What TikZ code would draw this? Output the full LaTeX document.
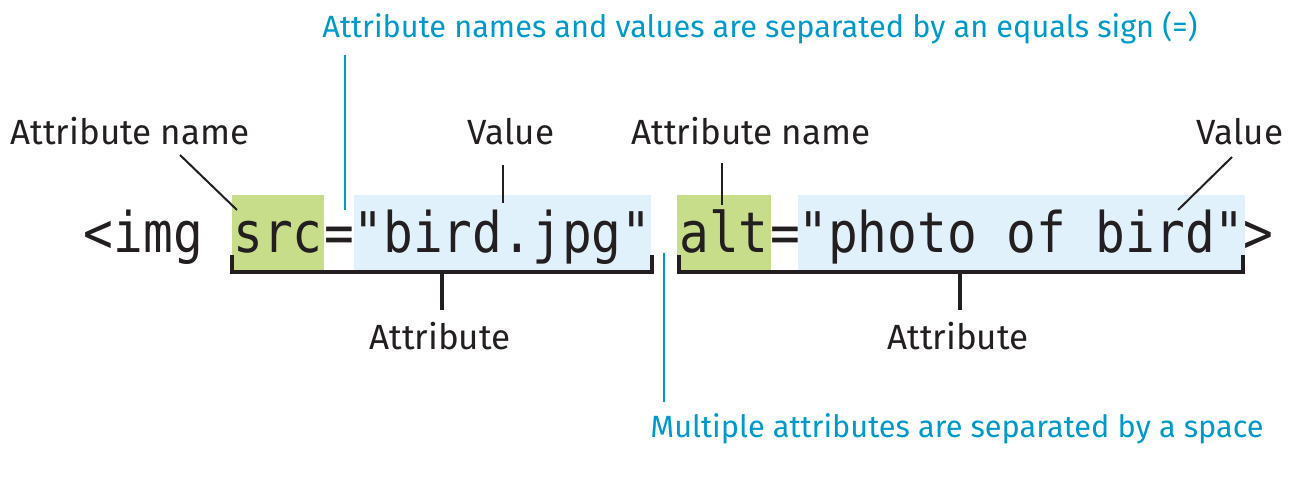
\documentclass[tikz,border=0pt]{standalone}
\usepackage{fontspec}
\setmainfont{Fira Sans}
\newfontfamily\codefont[FakeStretch=0.883]{DejaVu Sans Mono}
\definecolor{ink}{HTML}{231F20}
\definecolor{hlgreen}{HTML}{C8DD8A}
\definecolor{hlblue}{HTML}{E0F1FB}
\definecolor{note}{HTML}{0099CC}
\begin{document}
\begin{tikzpicture}[x=1pt,y=-1pt,
  code/.style={font=\codefont\fontsize{56}{60}\selectfont, text=ink, inner sep=0pt,
    text height=57pt, text depth=18pt, anchor=north},
  greenbox/.style={code, fill=hlgreen},
  bluebox/.style={code, fill=hlblue},
  label/.style={font=\fontsize{35}{40}\selectfont, text=ink, inner sep=0pt, anchor=base},
  notelabel/.style={font=\fontsize{30.7}{36}\selectfont, text=note, inner sep=0pt, anchor=base},
  leader/.style={draw=ink, line width=2pt},
  noteline/.style={draw=note, line width=2pt},
  bracket/.style={draw=ink, line width=4pt, line join=miter, line cap=butt}]
\useasboundingbox (0,0) rectangle (1300,478);

% code line
\node[code, anchor=north east] (img) at (203,195) {<img};
\node[greenbox, minimum width=92pt] (src) at (278,195) {src};
\node[code] (eq1) at (339,195) {=};
\node[bluebox, minimum width=297pt] (bird) at (502.5,195) {"bird.jpg"};
\node[greenbox, minimum width=94pt] (alt) at (724,195) {alt};
\node[code] (eq2) at (785,195) {=};
\node[bluebox, minimum width=445pt] (photo) at (1021.5,195) {"photo of bird"};
\node[code, anchor=north west] (gt) at (1243,195) {>};

% labels
\node[label] (an1) at (130,145) {Attribute name};
\node[label] (v1) at (511,145) {Value};
\node[label] (an2) at (751,145) {Attribute name};
\node[label] (v2) at (1240,145) {Value};
\node[label] (at1) at (440,349) {Attribute};
\node[label] (at2) at (958,349) {Attribute};
\node[notelabel] (n1) at (760,38) {Attribute names and values are separated by an equals sign (=)};
\node[notelabel] (n2) at (957,437) {Multiple attributes are separated by a space};

% leader ends
\coordinate (an1a) at (180,155); \coordinate (an1b) at (237,210);
\coordinate (v1a) at (502.5,165); \coordinate (v1b) at (502.5,203);
\coordinate (an2a) at (722,163); \coordinate (an2b) at (722,205);
\coordinate (v2a) at (1232,157); \coordinate (v2b) at (1178,210);
\coordinate (n1a) at (345,55); \coordinate (n1b) at (345,210);
\coordinate (n2a) at (664,253); \coordinate (n2b) at (664,402);

\draw[leader] (an1a) -- (an1b);
\draw[leader] (v1a) -- (v1b);
\draw[leader] (an2a) -- (an2b);
\draw[leader] (v2a) -- (v2b);
\draw[noteline] (n1a) -- (n1b);
\draw[noteline] (n2a) -- (n2b);

% brackets
\coordinate (b1l) at (232,255); \coordinate (b1r) at (651.5,255);
\coordinate (b1m) at (442,272); \coordinate (b1s) at (442,310);
\coordinate (b2l) at (678.5,255); \coordinate (b2r) at (1242.5,255);
\coordinate (b2m) at (960,272); \coordinate (b2s) at (960,310);
\draw[bracket] (b1l) |- (b1m) -| (b1r);
\draw[bracket] (b1m) -- (b1s);
\draw[bracket] (b2l) |- (b2m) -| (b2r);
\draw[bracket] (b2m) -- (b2s);
\end{tikzpicture}
\end{document}
